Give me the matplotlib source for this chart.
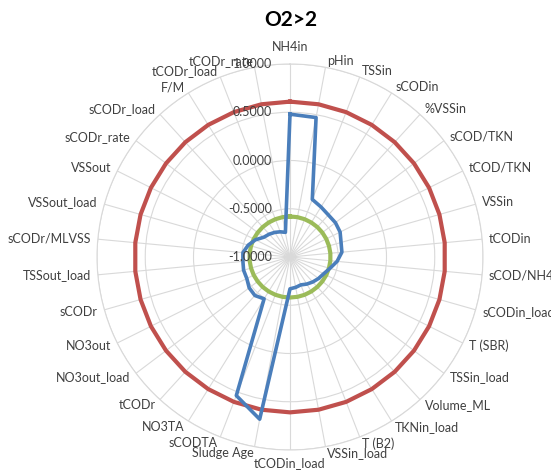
import numpy as np
import matplotlib
matplotlib.use("Agg")
import matplotlib.pyplot as plt

plt.rcParams['font.family'] = ['Lato', 'DejaVu Sans']

# spoke names, clockwise from the top
categories = [
    "NH4in", "pHin", "TSSin", "sCODin", "%VSSin", "sCOD/TKN", "tCOD/TKN",
    "VSSin", "tCODin", "sCOD/NH4", "sCODin_load", "T (SBR)", "TSSin_load",
    "Volume_ML", "TKNin_load", "T (B2)", "VSSin_load", "tCODin_load",
    "Sludge Age", "sCODTA", "NO3TA", "tCODr", "NO3out_load", "NO3out",
    "sCODr", "TSSout_load", "sCODr/MLVSS", "VSSout_load", "VSSout",
    "sCODr_rate", "sCODr_load", "F/M", "tCODr_load", "tCODr_rate",
]

# correlation values (blue series)
corr = [
    0.48, 0.47, -0.36, -0.39, -0.41, -0.41, -0.42,
    -0.45, -0.46, -0.51, -0.57, -0.61, -0.63,
    -0.65, -0.67, -0.69, -0.68, -0.67,
    0.71, 0.54, -0.49, -0.46, -0.47, -0.50,
    -0.50, -0.51, -0.51, -0.55, -0.60,
    -0.66, -0.68, -0.70, -0.72, -0.74,
]
upper_limit = [0.61] * len(categories)   # red ring
lower_limit = [-0.58] * len(categories)  # green ring

r_ticks = [-1.0, -0.5, 0.0, 0.5, 1.0]

grid_col = "#d9d9d9"
text_col = "#404040"

n = len(categories)
theta = np.arange(n) * 2 * np.pi / n

fig = plt.figure(figsize=(5.51, 4.70), dpi=100)
R = 193.0
cx, cy = 290.0, 257.0
ax = fig.add_axes([(cx - R) / 551, (470 - cy - R) / 470, 2 * R / 551, 2 * R / 470],
                  projection="polar")
ax.set_theta_zero_location("N")
ax.set_theta_direction(-1)
ax.set_ylim(-1, 1)

ax.set_xticks(theta)
ax.set_xticklabels([])
ax.set_yticks(r_ticks[1:])
ax.set_yticklabels([])
ax.tick_params(length=0)
ax.grid(True, color=grid_col, linewidth=0.8)
ax.spines["polar"].set_color(grid_col)
ax.spines["polar"].set_linewidth(0.8)

def closed(v):
    return list(v) + [v[0]]

th = closed(theta)
ax.plot(th, closed(upper_limit), color="#c0504d", linewidth=3.0, zorder=3)
ax.plot(th, closed(lower_limit), color="#9bbb59", linewidth=3.0, zorder=3)
ax.plot(th, closed(corr), color="#4a7ebb", linewidth=2.6, zorder=4)

# radial value labels
for v in r_ticks:
    ax.annotate(f"{v:.4f}", xy=(0, v), xytext=(-13, 0), textcoords="offset points",
                ha="right", va="center", fontsize=9, color=text_col,
                annotation_clip=False, zorder=5)

# category labels around the outside
r_lab = 1.07
for t, lab in zip(theta, categories):
    s, c = np.sin(t), np.cos(t)
    dy = 0
    if abs(s) < 0.05:
        ha = "center"
        va = "bottom" if c > 0 else "top"
        dy = 3 if c > 0 else 0
    else:
        ha = "left" if s > 0 else "right"
        va = "center"
    ax.annotate(lab, xy=(t, r_lab), xytext=(0, dy), textcoords="offset points",
                ha=ha, va=va, fontsize=9, color=text_col, annotation_clip=False)

fig.text(0.527, 0.957, "O2>2", ha="center", va="center", fontsize=15,
         fontweight="bold", color="black")

fig.savefig("out.png", dpi=100)
